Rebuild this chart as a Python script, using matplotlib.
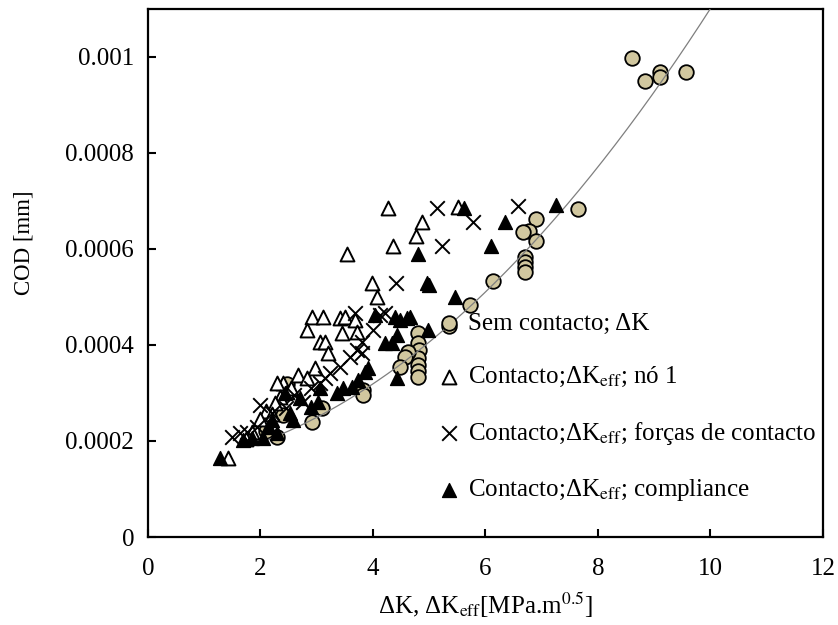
import matplotlib
matplotlib.use("Agg")
import matplotlib.pyplot as plt
import numpy as np

# ---- data (COD in mm) ----
sem_x = [8.60, 8.84, 9.10, 9.10, 9.56, 7.64, 6.90, 6.77, 6.67, 6.90, 6.70, 6.70, 6.70, 6.70,
         6.13, 5.72, 5.35, 4.80, 4.80, 4.82, 4.80, 4.80, 4.80, 4.80, 4.62, 4.57, 4.48,
         3.82, 3.82, 3.09, 2.92, 2.47, 2.40, 2.29, 2.10]
sem_y = [0.000998, 0.000950, 0.000967, 0.000957, 0.000967, 0.000682, 0.000661, 0.000636,
         0.000634, 0.000617, 0.000582, 0.000572, 0.000561, 0.000551, 0.000532, 0.000482,
         0.000439, 0.000424, 0.000403, 0.000389, 0.000373, 0.000359, 0.000345, 0.000333,
         0.000385, 0.000374, 0.000353, 0.000306, 0.000295, 0.000268, 0.000240, 0.000318,
         0.000254, 0.000208, 0.000220]

no1_x = [4.27, 5.51, 4.87, 4.76, 4.36, 3.54, 3.98, 4.07,
         2.92, 3.11, 2.83, 3.41, 3.50, 3.68, 3.72, 3.45, 3.06, 3.15, 3.20, 2.97, 2.67,
         2.40, 2.29, 2.83, 2.47, 2.35, 2.26, 2.10, 2.00, 1.85, 1.75, 1.42, 2.55, 2.20]
no1_y = [0.000684, 0.000686, 0.000655, 0.000626, 0.000605, 0.000590, 0.000528, 0.000499,
         0.000457, 0.000457, 0.000430, 0.000455, 0.000457, 0.000451, 0.000426, 0.000424,
         0.000405, 0.000405, 0.000382, 0.000351, 0.000337, 0.000320, 0.000320, 0.000330,
         0.000301, 0.000291, 0.000279, 0.000262, 0.000245, 0.000218, 0.000205, 0.000164,
         0.000310, 0.000255]

forcas_x = [5.14, 5.78, 5.23, 6.58, 4.41,
            3.68, 4.12, 4.21, 4.00, 3.80, 3.72, 3.80, 3.41, 3.24, 3.60, 3.15,
            2.76, 2.00, 1.94, 1.76, 1.64, 1.50, 2.20, 2.45, 2.90, 3.05, 2.60]
forcas_y = [0.000684, 0.000655, 0.000605, 0.000688, 0.000528,
            0.000466, 0.000462, 0.000466, 0.000430, 0.000405, 0.000389, 0.000382, 0.000353,
            0.000341, 0.000374, 0.000330,
            0.000281, 0.000274, 0.000229, 0.000218, 0.000216, 0.000208, 0.000258, 0.000268,
            0.000310, 0.000320, 0.000295]

compl_x = [5.62, 7.25, 6.35, 6.10, 4.80, 4.96, 5.46, 5.00,
           4.04, 4.39, 4.48, 4.60, 4.66, 4.21, 4.34, 4.43, 3.91, 3.86, 3.73, 3.63, 3.47,
           3.36, 4.43, 3.06, 4.98,
           1.28, 1.69, 1.85, 2.04, 2.13, 2.20, 2.58, 2.52, 2.44, 3.02, 2.29, 2.90, 2.70]
compl_y = [0.000684, 0.000690, 0.000655, 0.000605, 0.000590, 0.000528, 0.000499, 0.000524,
           0.000462, 0.000457, 0.000451, 0.000455, 0.000457, 0.000403, 0.000403, 0.000420,
           0.000351, 0.000343, 0.000326, 0.000312, 0.000310, 0.000299, 0.000330, 0.000310,
           0.000430,
           0.000164, 0.000202, 0.000206, 0.000206, 0.000229, 0.000243, 0.000243, 0.000258,
           0.000299, 0.000281, 0.000216, 0.000270, 0.000290]

# order-2 polynomial trend line of the "Sem contacto" series
trend_coef = [8.636e-6, 9.3e-6, 1.434e-4]   # c2, c1, c0
trend_range = [2.0, 10.6]

labels = ["Sem contacto; ΔK",
          "Contacto;ΔK$_{\\mathrm{eff}}$; nó 1",
          "Contacto;ΔK$_{\\mathrm{eff}}$; forças de contacto",
          "Contacto;ΔK$_{\\mathrm{eff}}$; compliance"]
x_ticks = [0, 2, 4, 6, 8, 10, 12]
y_ticks = [0, 0.0002, 0.0004, 0.0006, 0.0008, 0.001]
y_ticklabels = ["0", "0.0002", "0.0004", "0.0006", "0.0008", "0.001"]

plt.rcParams['font.family'] = ['Liberation Serif', 'DejaVu Serif']
plt.rcParams['mathtext.fontset'] = 'stix'

fig = plt.figure(figsize=(8.38, 6.25), dpi=100)
ax = fig.add_axes([0.1766, 0.1408, 0.8055, 0.8456])

circ_col = '#D1C79F'
ax.scatter(sem_x, sem_y, s=110, marker='o', facecolor=circ_col, edgecolor='black',
           linewidths=1.3, zorder=2, label=labels[0])

xt = np.linspace(trend_range[0], trend_range[1], 200)
ax.plot(xt, np.polyval(trend_coef, xt), color='#7f7f7f', lw=0.9, zorder=3)

ax.scatter(no1_x, no1_y, s=100, marker='^', facecolor='white', edgecolor='black',
           linewidths=1.4, zorder=4, label=labels[1])
ax.scatter(forcas_x, forcas_y, s=110, marker='x', color='black',
           linewidths=1.4, zorder=5, label=labels[2])
ax.scatter(compl_x, compl_y, s=100, marker='^', facecolor='black', edgecolor='black',
           linewidths=1.0, zorder=6, label=labels[3])

ax.set_xlim(0, 12)
ax.set_ylim(0, 0.0011)
ax.set_xticks(x_ticks)
ax.set_xticklabels([str(t) for t in x_ticks])
ax.set_yticks(y_ticks)
ax.set_yticklabels(y_ticklabels)
ax.tick_params(direction='in', length=6, width=1.5, labelsize=18,
               top=False, right=False)
ax.tick_params(axis='x', pad=15)
ax.tick_params(axis='y', pad=10)
for sp in ax.spines.values():
    sp.set_linewidth(1.6)

ax.set_xlabel("ΔK, ΔK$_{\\mathrm{eff}}$[MPa.m$^{0.5}$]", fontsize=18, labelpad=8)
ax.set_ylabel("COD [mm]", fontsize=16.5)
ax.yaxis.set_label_coords(-0.168, 0.556)

leg = ax.legend(loc='upper left', bbox_to_anchor=(0.42, 0.444), frameon=False,
                fontsize=18, handlelength=0.6, handletextpad=0.45,
                labelspacing=1.22, scatterpoints=1, borderaxespad=0)

fig.savefig("out.png", dpi=100)
